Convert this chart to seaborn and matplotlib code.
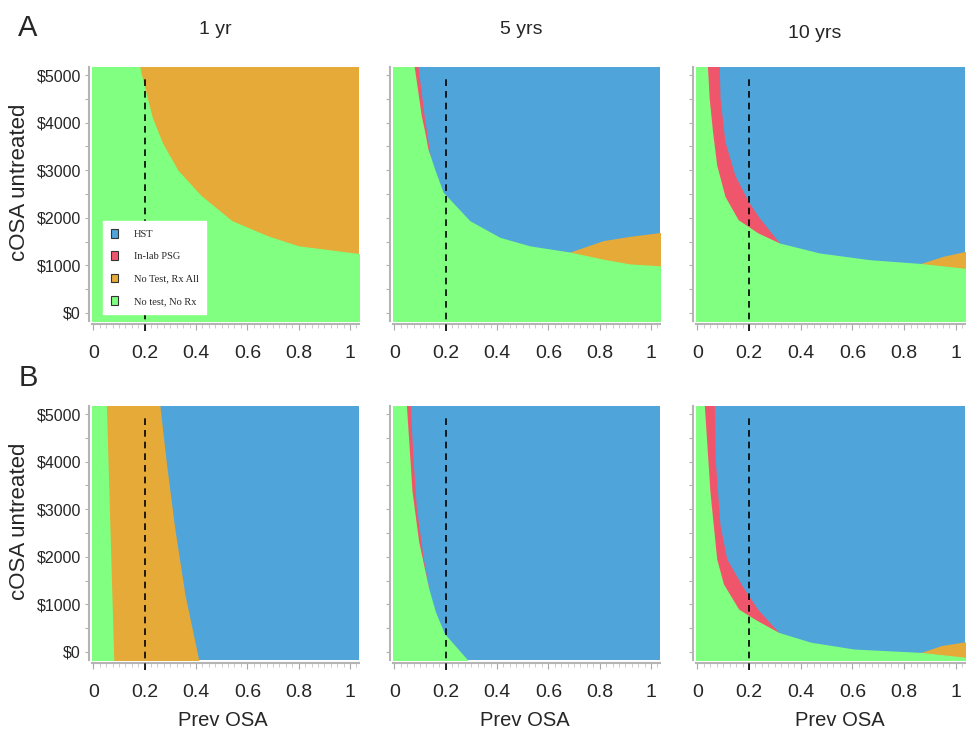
import matplotlib
matplotlib.use("Agg")
import matplotlib.pyplot as plt
from matplotlib.patches import Patch
from matplotlib.ticker import MultipleLocator
import seaborn as sns
import numpy as np

# strategies and their colours
strategies = ["HST", "In-lab PSG", "No Test, Rx All", "No test, No Rx"]
strategy_colors = ["#4FA4DA", "#F0566B", "#E5AA38", "#80FF80"]
horizons = ["1 yr", "5 yrs", "10 yrs"]
row_letters = ["A", "B"]

prev_ticks = [0, 0.2, 0.4, 0.6, 0.8, 1]
prev_labels = ["0", "0.2", "0.4", "0.6", "0.8", "1"]
cost_ticks = [0, 1000, 2000, 3000, 4000, 5000]
cost_labels = ["$0", "$1000", "$2000", "$3000", "$4000", "$5000"]
base_prev = 0.2

# region edges (Prev OSA, cOSA untreated)
# row A, 1 yr
a1_green_prev = [0.18, 0.19, 0.23, 0.27, 0.33, 0.42, 0.54, 0.68, 0.80, 1.05]
a1_green_cost = [5200, 4960, 4110, 3570, 3000, 2470, 1940, 1620, 1410, 1240]
# row A, 5 yrs
a2_green_prev = [0.077, 0.092, 0.105, 0.119, 0.131, 0.157, 0.19, 0.294, 0.411, 0.528, 0.684, 0.814, 0.918, 1.05]
a2_green_cost = [5200, 4640, 4150, 3800, 3450, 3030, 2540, 1940, 1590, 1410, 1280, 1130, 1030, 985]
a2_red_prev = [0.092, 0.105, 0.116, 0.126, 0.14]
a2_red_cost = [5200, 4640, 4150, 3800, 3300]
a2_orange_prev = [0.684, 0.814, 0.918, 1.05]
a2_orange_cost = [1280, 1520, 1610, 1700]
# row A, 10 yrs
a3_green_prev = [0.039, 0.046, 0.059, 0.075, 0.107, 0.158, 0.235, 0.318, 0.473, 0.665, 0.864, 1.05]
a3_green_cost = [5200, 4510, 3810, 3110, 2450, 1960, 1680, 1470, 1260, 1120, 1040, 930]
a3_red_prev = [0.085, 0.088, 0.107, 0.145, 0.197, 0.241, 0.318]
a3_red_cost = [5200, 4510, 3600, 2900, 2345, 1990, 1470]
a3_orange_prev = [0.864, 0.95, 1.05]
a3_orange_cost = [1040, 1190, 1310]
# row B, 1 yr
b1_green_prev = [0.051, 0.080]
b1_green_cost = [5200, -200]
b1_orange_prev = [0.259, 0.284, 0.317, 0.357, 0.412]
b1_orange_cost = [5200, 4010, 2610, 1210, -200]
# row B, 5 yrs
b2_green_prev = [0.047, 0.069, 0.095, 0.134, 0.160, 0.195, 0.291]
b2_green_cost = [5200, 3380, 2320, 1340, 850, 390, -200]
b2_red_prev = [0.062, 0.073, 0.086, 0.113, 0.134]
b2_red_cost = [5200, 4080, 3030, 1970, 1340]
# row B, 10 yrs
b3_green_prev = [0.027, 0.049, 0.075, 0.101, 0.160, 0.231, 0.315, 0.438, 0.607, 0.866, 1.05]
b3_green_cost = [5200, 3360, 1955, 1430, 900, 660, 410, 205, 60, -10, -120]
b3_red_prev = [0.066, 0.069, 0.088, 0.114, 0.173, 0.233, 0.315]
b3_red_cost = [5200, 4060, 2660, 1955, 1395, 900, 410]
b3_orange_prev = [0.866, 0.944, 1.05]
b3_orange_cost = [-10, 135, 225]

colors = dict(zip(strategies, strategy_colors))
HST, PSG, RXALL, NORX = strategies

# (background strategy, [(strategy, prev, cost, fill from left edge)])
panels = {
    (0, 0): (RXALL, [(NORX, a1_green_prev, a1_green_cost, True)]),
    (0, 1): (HST, [(RXALL, a2_orange_prev, a2_orange_cost, False),
                   (PSG, a2_red_prev, a2_red_cost, True),
                   (NORX, a2_green_prev, a2_green_cost, True)]),
    (0, 2): (HST, [(RXALL, a3_orange_prev, a3_orange_cost, False),
                   (PSG, a3_red_prev, a3_red_cost, True),
                   (NORX, a3_green_prev, a3_green_cost, True)]),
    (1, 0): (HST, [(RXALL, b1_orange_prev, b1_orange_cost, True),
                   (NORX, b1_green_prev, b1_green_cost, True)]),
    (1, 1): (HST, [(PSG, b2_red_prev, b2_red_cost, True),
                   (NORX, b2_green_prev, b2_green_cost, True)]),
    (1, 2): (HST, [(RXALL, b3_orange_prev, b3_orange_cost, False),
                   (PSG, b3_red_prev, b3_red_cost, True),
                   (NORX, b3_green_prev, b3_green_cost, True)]),
}

XLIM = (-0.005, 1.035)
YLIM = (-170, 5170)

sns.set_theme(style="white")
plt.rcParams['font.family'] = ['Liberation Sans', 'DejaVu Sans']

W, H = 967, 734
fig = plt.figure(figsize=(W / 100, H / 100), dpi=100)
col_left = [92, 393, 696]
col_width = [267, 267, 269]
row_top = [67, 406]
ax_h = 254
xlabel_x = [0.49, 0.494, 0.535]

for (r, c), (base, layers) in panels.items():
    ax = fig.add_axes([col_left[c] / W, 1 - (row_top[r] + ax_h) / H,
                       col_width[c] / W, ax_h / H])
    ax.set_facecolor(colors[base])
    for name, prev, cost, from_left in layers:
        x = np.asarray(prev, float)
        y = np.asarray(cost, float)
        if from_left:
            x = np.r_[XLIM[0] - 0.05, x]
            y = np.r_[YLIM[1] + 200, y]
        ax.fill_between(x, YLIM[0] - 300, y, color=colors[name], lw=0)
    ax.axvline(base_prev, ymin=-0.04, ymax=0.97, color='black', lw=1.2,
               ls=(0, (4, 3)), clip_on=False, zorder=5)
    ax.set_xlim(*XLIM)
    ax.set_ylim(*YLIM)

    ax.set_xticks(prev_ticks, prev_labels)
    ax.xaxis.set_minor_locator(MultipleLocator(0.025))
    ax.set_yticks(cost_ticks, cost_labels if c == 0 else [])
    ax.yaxis.set_minor_locator(MultipleLocator(500))
    ax.tick_params(axis='x', which='major', bottom=True, length=4, width=0.8,
                   color='#a8a8a8', pad=11, labelsize=14)
    ax.tick_params(axis='x', which='minor', bottom=True, length=3, width=0.6,
                   color='#c4c4c4')
    ax.tick_params(axis='y', which='both', left=True, length=3, width=0.8,
                   color='#b0b0b0', pad=3, labelsize=11.5)
    sns.despine(ax=ax, offset=2)
    for side in ['left', 'bottom']:
        ax.spines[side].set_color('#b4b4b4')
        ax.spines[side].set_linewidth(1.5)
    ax.grid(False)

    if c == 0:
        ax.set_ylabel("cOSA untreated", fontsize=16)
        ax.yaxis.set_label_coords(-0.232, 0.545)
    if r == 1:
        ax.set_xlabel("Prev OSA", fontsize=14.5)
        ax.xaxis.set_label_coords(xlabel_x[c], -0.2)

    if (r, c) == (0, 0):
        handles = [Patch(facecolor=colors[s], edgecolor='#333333', lw=0.8)
                   for s in strategies]
        leg = ax.legend(handles, strategies, loc='lower left',
                        bbox_to_anchor=(0.041, 0.028), borderaxespad=0,
                        prop={'family': 'Liberation Serif', 'size': 7.5},
                        handlelength=0.7, handleheight=0.9, handletextpad=1.5,
                        labelspacing=1.2, borderpad=0.75, fancybox=False,
                        frameon=True, framealpha=1)
        leg.get_frame().set_facecolor('white')
        leg.get_frame().set_edgecolor('white')

# column titles and row letters
title_pos = [(215, 30), (521, 30), (815, 33)]
for t, (px, py) in zip(horizons, title_pos):
    fig.text(px / W, 1 - py / H, t, ha='center', va='center', fontsize=14)
for letter, py in zip(row_letters, [28, 378]):
    fig.text(28 / W, 1 - py / H, letter, ha='center', va='center', fontsize=21)

fig.savefig("out.png", dpi=100)
